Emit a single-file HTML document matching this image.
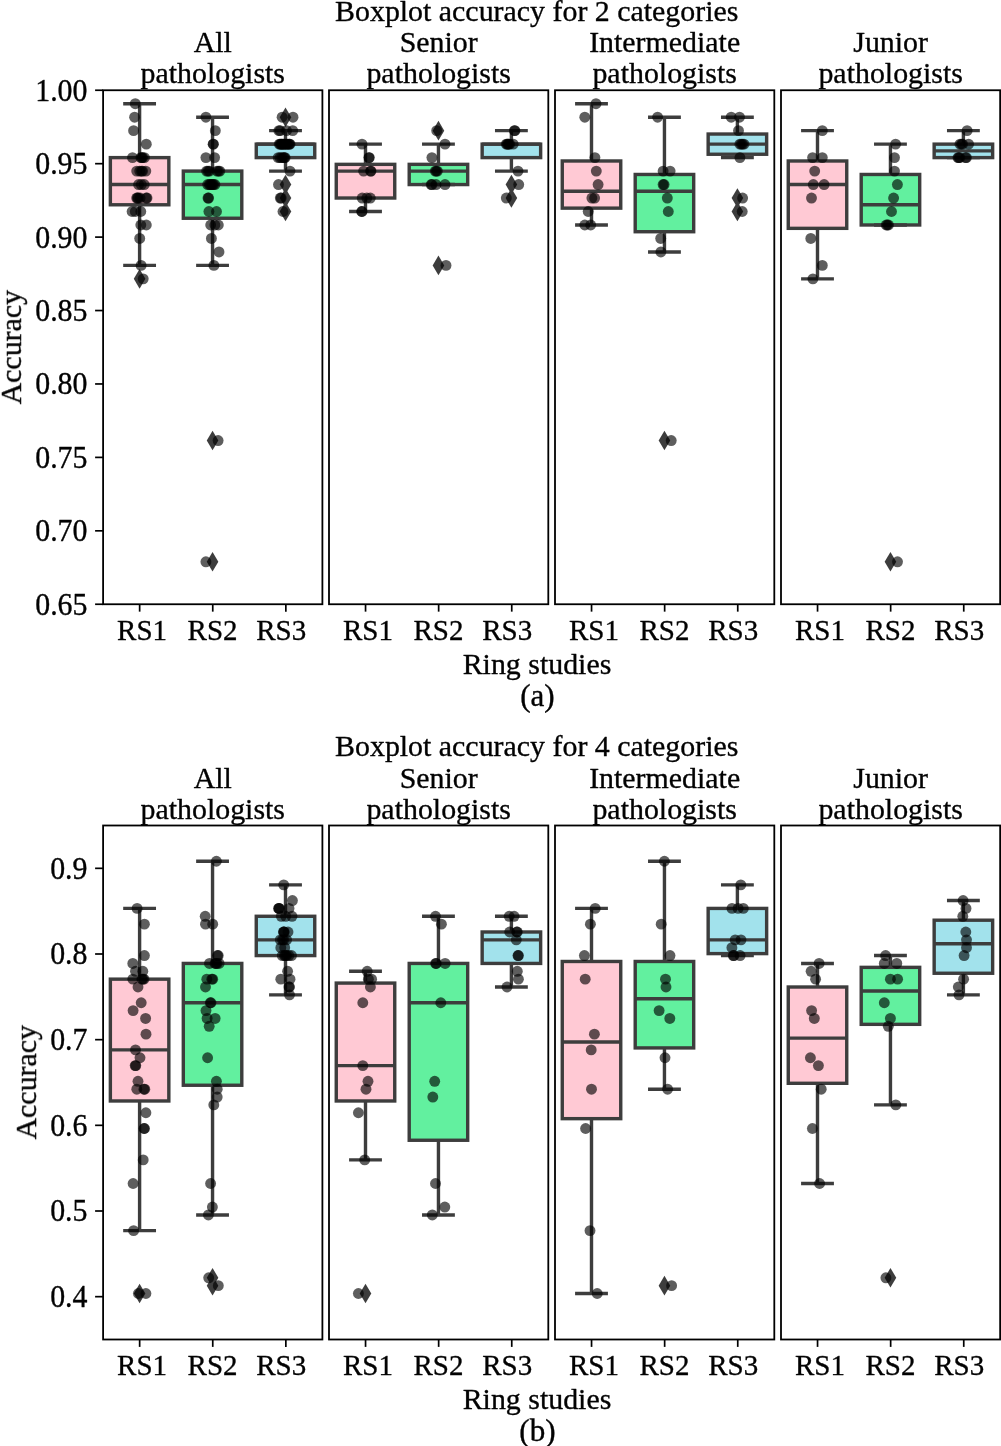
<!DOCTYPE html>
<html><head><meta charset="utf-8"><title>Boxplot accuracy</title>
<style>html,body{margin:0;padding:0;background:#fff;}body{width:1001px;height:1446px;overflow:hidden;font-family:"Liberation Serif",serif;}svg{display:block;}text{stroke:#000;stroke-width:0.35px;stroke-linejoin:round;}</style></head>
<body>
<svg width="1001" height="1446" viewBox="0 0 1001 1446" font-family="'Liberation Serif', serif" font-size="29.9" fill="#000">
<rect x="0" y="0" width="1001" height="1446" fill="#fff"/>
<g stroke="#3d3d3d" stroke-width="3.4" fill="none">
<rect x="110.36" y="157.62" width="58.48" height="47.16" fill="#ffc9d4"/>
<line x1="139.6" y1="157.62" x2="139.6" y2="103.72"/>
<line x1="139.6" y1="204.77" x2="139.6" y2="265.4"/>
<line x1="123.18" y1="103.72" x2="156.02" y2="103.72"/>
<line x1="123.18" y1="265.4" x2="156.02" y2="265.4"/>
<line x1="110.36" y1="184.56" x2="168.84" y2="184.56"/>
</g>
<path d="M139.6 269.07L145.4 278.87L139.6 288.67L133.8 278.87Z" fill="#3d3d3d"/>
<g stroke="#3d3d3d" stroke-width="3.4" fill="none">
<rect x="183.31" y="171.09" width="58.48" height="47.16" fill="#62f09f"/>
<line x1="212.55" y1="171.09" x2="212.55" y2="117.2"/>
<line x1="212.55" y1="218.24" x2="212.55" y2="265.4"/>
<line x1="196.13" y1="117.2" x2="228.97" y2="117.2"/>
<line x1="196.13" y1="265.4" x2="228.97" y2="265.4"/>
<line x1="183.31" y1="184.56" x2="241.79" y2="184.56"/>
</g>
<path d="M212.55 430.75L218.35 440.55L212.55 450.35L206.75 440.55Z" fill="#3d3d3d"/>
<path d="M212.55 552.01L218.35 561.81L212.55 571.61L206.75 561.81Z" fill="#3d3d3d"/>
<g stroke="#3d3d3d" stroke-width="3.4" fill="none">
<rect x="256.26" y="144.14" width="58.48" height="13.47" fill="#a2e2ec"/>
<line x1="285.5" y1="144.14" x2="285.5" y2="130.67"/>
<line x1="285.5" y1="157.62" x2="285.5" y2="171.09"/>
<line x1="269.08" y1="130.67" x2="301.92" y2="130.67"/>
<line x1="269.08" y1="171.09" x2="301.92" y2="171.09"/>
<line x1="256.26" y1="144.14" x2="314.74" y2="144.14"/>
</g>
<path d="M285.5 107.4L291.3 117.2L285.5 127L279.7 117.2Z" fill="#3d3d3d"/>
<path d="M285.5 174.76L291.3 184.56L285.5 194.36L279.7 184.56Z" fill="#3d3d3d"/>
<path d="M285.5 188.24L291.3 198.04L285.5 207.84L279.7 198.04Z" fill="#3d3d3d"/>
<path d="M285.5 201.71L291.3 211.51L285.5 221.31L279.7 211.51Z" fill="#3d3d3d"/>
<g fill="#000" fill-opacity="0.63">
<circle cx="135.3" cy="103.72" r="5.45"/>
<circle cx="134.6" cy="117.2" r="5.45"/>
<circle cx="133.6" cy="130.67" r="5.45"/>
<circle cx="146.3" cy="144.14" r="5.45"/>
<circle cx="132.5" cy="157.62" r="5.45"/>
<circle cx="140.9" cy="157.62" r="5.45"/>
<circle cx="142.6" cy="157.62" r="5.45"/>
<circle cx="144.4" cy="157.62" r="5.45"/>
<circle cx="141.8" cy="157.62" r="5.45"/>
<circle cx="136.7" cy="171.09" r="5.45"/>
<circle cx="139.7" cy="171.09" r="5.45"/>
<circle cx="141.5" cy="171.09" r="5.45"/>
<circle cx="145.8" cy="171.09" r="5.45"/>
<circle cx="142.6" cy="171.09" r="5.45"/>
<circle cx="138.6" cy="184.56" r="5.45"/>
<circle cx="141.3" cy="184.56" r="5.45"/>
<circle cx="144.2" cy="184.56" r="5.45"/>
<circle cx="136.7" cy="198.04" r="5.45"/>
<circle cx="138.3" cy="198.04" r="5.45"/>
<circle cx="140.1" cy="198.04" r="5.45"/>
<circle cx="147" cy="198.04" r="5.45"/>
<circle cx="137.5" cy="198.04" r="5.45"/>
<circle cx="146.2" cy="198.04" r="5.45"/>
<circle cx="132.1" cy="211.51" r="5.45"/>
<circle cx="135.3" cy="211.51" r="5.45"/>
<circle cx="140.8" cy="211.51" r="5.45"/>
<circle cx="140.8" cy="224.98" r="5.45"/>
<circle cx="146.3" cy="224.98" r="5.45"/>
<circle cx="139.7" cy="238.45" r="5.45"/>
<circle cx="141.1" cy="265.4" r="5.45"/>
<circle cx="143.2" cy="278.87" r="5.45"/>
<circle cx="205.9" cy="117.2" r="5.45"/>
<circle cx="215.3" cy="130.67" r="5.45"/>
<circle cx="213.1" cy="144.14" r="5.45"/>
<circle cx="213.4" cy="144.14" r="5.45"/>
<circle cx="205.9" cy="157.62" r="5.45"/>
<circle cx="214.6" cy="157.62" r="5.45"/>
<circle cx="206.6" cy="171.09" r="5.45"/>
<circle cx="209.4" cy="171.09" r="5.45"/>
<circle cx="217" cy="171.09" r="5.45"/>
<circle cx="219.8" cy="171.09" r="5.45"/>
<circle cx="218.5" cy="171.09" r="5.45"/>
<circle cx="208" cy="171.09" r="5.45"/>
<circle cx="207.7" cy="184.56" r="5.45"/>
<circle cx="209.3" cy="184.56" r="5.45"/>
<circle cx="211.4" cy="184.56" r="5.45"/>
<circle cx="214.9" cy="184.56" r="5.45"/>
<circle cx="213.5" cy="184.56" r="5.45"/>
<circle cx="210.3" cy="184.56" r="5.45"/>
<circle cx="212.5" cy="184.56" r="5.45"/>
<circle cx="208" cy="198.04" r="5.45"/>
<circle cx="208.6" cy="198.04" r="5.45"/>
<circle cx="208.9" cy="211.51" r="5.45"/>
<circle cx="216.5" cy="211.51" r="5.45"/>
<circle cx="210.7" cy="224.98" r="5.45"/>
<circle cx="214.9" cy="224.98" r="5.45"/>
<circle cx="218.3" cy="224.98" r="5.45"/>
<circle cx="211.4" cy="238.45" r="5.45"/>
<circle cx="219" cy="251.93" r="5.45"/>
<circle cx="213.9" cy="265.4" r="5.45"/>
<circle cx="218.1" cy="440.55" r="5.45"/>
<circle cx="205.9" cy="561.81" r="5.45"/>
<circle cx="282.1" cy="117.2" r="5.45"/>
<circle cx="293" cy="117.2" r="5.45"/>
<circle cx="278.9" cy="130.67" r="5.45"/>
<circle cx="280.2" cy="130.67" r="5.45"/>
<circle cx="286.5" cy="130.67" r="5.45"/>
<circle cx="292.7" cy="130.67" r="5.45"/>
<circle cx="279.3" cy="144.14" r="5.45"/>
<circle cx="281" cy="144.14" r="5.45"/>
<circle cx="282.3" cy="144.14" r="5.45"/>
<circle cx="284" cy="144.14" r="5.45"/>
<circle cx="285.8" cy="144.14" r="5.45"/>
<circle cx="287.5" cy="144.14" r="5.45"/>
<circle cx="290" cy="144.14" r="5.45"/>
<circle cx="288.8" cy="144.14" r="5.45"/>
<circle cx="283.2" cy="144.14" r="5.45"/>
<circle cx="280.2" cy="144.14" r="5.45"/>
<circle cx="284.9" cy="144.14" r="5.45"/>
<circle cx="286.6" cy="144.14" r="5.45"/>
<circle cx="281.6" cy="144.14" r="5.45"/>
<circle cx="289.4" cy="144.14" r="5.45"/>
<circle cx="278.2" cy="157.62" r="5.45"/>
<circle cx="280" cy="157.62" r="5.45"/>
<circle cx="281.7" cy="157.62" r="5.45"/>
<circle cx="283.5" cy="157.62" r="5.45"/>
<circle cx="285.1" cy="157.62" r="5.45"/>
<circle cx="284.3" cy="157.62" r="5.45"/>
<circle cx="290" cy="171.09" r="5.45"/>
<circle cx="278.5" cy="184.56" r="5.45"/>
<circle cx="280.3" cy="198.04" r="5.45"/>
<circle cx="281.2" cy="198.04" r="5.45"/>
<circle cx="283" cy="211.51" r="5.45"/>
</g>
<rect x="103.1" y="90.25" width="219.3" height="514" fill="none" stroke="#000" stroke-width="1.8"/>
<g stroke="#000" stroke-width="1.7">
<line x1="139.65" y1="604.25" x2="139.65" y2="611.65"/>
<line x1="212.75" y1="604.25" x2="212.75" y2="611.65"/>
<line x1="285.85" y1="604.25" x2="285.85" y2="611.65"/>
<line x1="103.1" y1="604.25" x2="95.1" y2="604.25"/>
<line x1="103.1" y1="530.82" x2="95.1" y2="530.82"/>
<line x1="103.1" y1="457.39" x2="95.1" y2="457.39"/>
<line x1="103.1" y1="383.96" x2="95.1" y2="383.96"/>
<line x1="103.1" y1="310.54" x2="95.1" y2="310.54"/>
<line x1="103.1" y1="237.11" x2="95.1" y2="237.11"/>
<line x1="103.1" y1="163.68" x2="95.1" y2="163.68"/>
<line x1="103.1" y1="90.25" x2="95.1" y2="90.25"/>
</g>
<g stroke="#3d3d3d" stroke-width="3.4" fill="none">
<rect x="336.26" y="164.35" width="58.48" height="33.68" fill="#ffc9d4"/>
<line x1="365.5" y1="164.35" x2="365.5" y2="144.14"/>
<line x1="365.5" y1="198.04" x2="365.5" y2="211.51"/>
<line x1="349.08" y1="144.14" x2="381.92" y2="144.14"/>
<line x1="349.08" y1="211.51" x2="381.92" y2="211.51"/>
<line x1="336.26" y1="171.09" x2="394.74" y2="171.09"/>
</g>
<g stroke="#3d3d3d" stroke-width="3.4" fill="none">
<rect x="409.21" y="164.35" width="58.48" height="20.21" fill="#62f09f"/>
<line x1="438.45" y1="164.35" x2="438.45" y2="144.14"/>
<line x1="422.03" y1="144.14" x2="454.87" y2="144.14"/>
<line x1="422.03" y1="184.56" x2="454.87" y2="184.56"/>
<line x1="409.21" y1="171.09" x2="467.69" y2="171.09"/>
</g>
<path d="M438.45 120.87L444.25 130.67L438.45 140.47L432.65 130.67Z" fill="#3d3d3d"/>
<path d="M438.45 255.6L444.25 265.4L438.45 275.2L432.65 265.4Z" fill="#3d3d3d"/>
<g stroke="#3d3d3d" stroke-width="3.4" fill="none">
<rect x="482.16" y="144.14" width="58.48" height="13.47" fill="#a2e2ec"/>
<line x1="511.4" y1="144.14" x2="511.4" y2="130.67"/>
<line x1="511.4" y1="157.62" x2="511.4" y2="171.09"/>
<line x1="494.98" y1="130.67" x2="527.82" y2="130.67"/>
<line x1="494.98" y1="171.09" x2="527.82" y2="171.09"/>
<line x1="482.16" y1="144.14" x2="540.64" y2="144.14"/>
</g>
<path d="M511.4 174.76L517.2 184.56L511.4 194.36L505.6 184.56Z" fill="#3d3d3d"/>
<path d="M511.4 188.24L517.2 198.04L511.4 207.84L505.6 198.04Z" fill="#3d3d3d"/>
<g fill="#000" fill-opacity="0.63">
<circle cx="362" cy="144.14" r="5.45"/>
<circle cx="368.9" cy="157.62" r="5.45"/>
<circle cx="369.3" cy="157.62" r="5.45"/>
<circle cx="363.6" cy="171.09" r="5.45"/>
<circle cx="371" cy="171.09" r="5.45"/>
<circle cx="370.6" cy="171.09" r="5.45"/>
<circle cx="362.2" cy="198.04" r="5.45"/>
<circle cx="366.8" cy="198.04" r="5.45"/>
<circle cx="370.3" cy="198.04" r="5.45"/>
<circle cx="361.7" cy="211.51" r="5.45"/>
<circle cx="362" cy="211.51" r="5.45"/>
<circle cx="436.7" cy="130.67" r="5.45"/>
<circle cx="445" cy="144.14" r="5.45"/>
<circle cx="431.9" cy="157.62" r="5.45"/>
<circle cx="435.3" cy="171.09" r="5.45"/>
<circle cx="437.4" cy="171.09" r="5.45"/>
<circle cx="436.3" cy="171.09" r="5.45"/>
<circle cx="431.2" cy="184.56" r="5.45"/>
<circle cx="432" cy="184.56" r="5.45"/>
<circle cx="436" cy="184.56" r="5.45"/>
<circle cx="445" cy="184.56" r="5.45"/>
<circle cx="446" cy="265.4" r="5.45"/>
<circle cx="514.4" cy="130.67" r="5.45"/>
<circle cx="514.9" cy="130.67" r="5.45"/>
<circle cx="506.3" cy="144.14" r="5.45"/>
<circle cx="508" cy="144.14" r="5.45"/>
<circle cx="509.7" cy="144.14" r="5.45"/>
<circle cx="513.2" cy="144.14" r="5.45"/>
<circle cx="507.2" cy="144.14" r="5.45"/>
<circle cx="508.8" cy="144.14" r="5.45"/>
<circle cx="518" cy="171.09" r="5.45"/>
<circle cx="518.7" cy="184.56" r="5.45"/>
<circle cx="506.3" cy="198.04" r="5.45"/>
</g>
<rect x="329" y="90.25" width="219.3" height="514" fill="none" stroke="#000" stroke-width="1.8"/>
<g stroke="#000" stroke-width="1.7">
<line x1="365.55" y1="604.25" x2="365.55" y2="611.65"/>
<line x1="438.65" y1="604.25" x2="438.65" y2="611.65"/>
<line x1="511.75" y1="604.25" x2="511.75" y2="611.65"/>
</g>
<g stroke="#3d3d3d" stroke-width="3.4" fill="none">
<rect x="562.26" y="160.98" width="58.48" height="47.16" fill="#ffc9d4"/>
<line x1="591.5" y1="160.98" x2="591.5" y2="103.72"/>
<line x1="591.5" y1="208.14" x2="591.5" y2="224.98"/>
<line x1="575.08" y1="103.72" x2="607.92" y2="103.72"/>
<line x1="575.08" y1="224.98" x2="607.92" y2="224.98"/>
<line x1="562.26" y1="191.3" x2="620.74" y2="191.3"/>
</g>
<g stroke="#3d3d3d" stroke-width="3.4" fill="none">
<rect x="635.21" y="174.46" width="58.48" height="57.26" fill="#62f09f"/>
<line x1="664.45" y1="174.46" x2="664.45" y2="117.2"/>
<line x1="664.45" y1="231.72" x2="664.45" y2="251.93"/>
<line x1="648.03" y1="117.2" x2="680.87" y2="117.2"/>
<line x1="648.03" y1="251.93" x2="680.87" y2="251.93"/>
<line x1="635.21" y1="191.3" x2="693.69" y2="191.3"/>
</g>
<path d="M664.45 430.75L670.25 440.55L664.45 450.35L658.65 440.55Z" fill="#3d3d3d"/>
<g stroke="#3d3d3d" stroke-width="3.4" fill="none">
<rect x="708.16" y="134.04" width="58.48" height="20.21" fill="#a2e2ec"/>
<line x1="737.4" y1="134.04" x2="737.4" y2="117.2"/>
<line x1="737.4" y1="154.25" x2="737.4" y2="157.62"/>
<line x1="720.98" y1="117.2" x2="753.82" y2="117.2"/>
<line x1="720.98" y1="157.62" x2="753.82" y2="157.62"/>
<line x1="708.16" y1="144.14" x2="766.64" y2="144.14"/>
</g>
<path d="M737.4 188.24L743.2 198.04L737.4 207.84L731.6 198.04Z" fill="#3d3d3d"/>
<path d="M737.4 201.71L743.2 211.51L737.4 221.31L731.6 211.51Z" fill="#3d3d3d"/>
<g fill="#000" fill-opacity="0.63">
<circle cx="596" cy="103.72" r="5.45"/>
<circle cx="584.8" cy="117.2" r="5.45"/>
<circle cx="594.9" cy="157.62" r="5.45"/>
<circle cx="596.3" cy="171.09" r="5.45"/>
<circle cx="598.1" cy="184.56" r="5.45"/>
<circle cx="591.9" cy="198.04" r="5.45"/>
<circle cx="594.6" cy="198.04" r="5.45"/>
<circle cx="588.2" cy="211.51" r="5.45"/>
<circle cx="584.8" cy="224.98" r="5.45"/>
<circle cx="590.7" cy="224.98" r="5.45"/>
<circle cx="657.6" cy="117.2" r="5.45"/>
<circle cx="663.1" cy="171.09" r="5.45"/>
<circle cx="670.1" cy="171.09" r="5.45"/>
<circle cx="663.1" cy="184.56" r="5.45"/>
<circle cx="664.1" cy="184.56" r="5.45"/>
<circle cx="667.3" cy="198.04" r="5.45"/>
<circle cx="668.3" cy="211.51" r="5.45"/>
<circle cx="660.7" cy="238.45" r="5.45"/>
<circle cx="660.9" cy="251.93" r="5.45"/>
<circle cx="671.2" cy="440.55" r="5.45"/>
<circle cx="731.2" cy="117.2" r="5.45"/>
<circle cx="739.5" cy="117.2" r="5.45"/>
<circle cx="738.5" cy="130.67" r="5.45"/>
<circle cx="739.9" cy="144.14" r="5.45"/>
<circle cx="741.3" cy="144.14" r="5.45"/>
<circle cx="742.6" cy="144.14" r="5.45"/>
<circle cx="744" cy="144.14" r="5.45"/>
<circle cx="739.9" cy="157.62" r="5.45"/>
<circle cx="742.6" cy="198.04" r="5.45"/>
<circle cx="742.2" cy="211.51" r="5.45"/>
</g>
<rect x="555" y="90.25" width="219.3" height="514" fill="none" stroke="#000" stroke-width="1.8"/>
<g stroke="#000" stroke-width="1.7">
<line x1="591.55" y1="604.25" x2="591.55" y2="611.65"/>
<line x1="664.65" y1="604.25" x2="664.65" y2="611.65"/>
<line x1="737.75" y1="604.25" x2="737.75" y2="611.65"/>
</g>
<g stroke="#3d3d3d" stroke-width="3.4" fill="none">
<rect x="788.26" y="160.98" width="58.48" height="67.37" fill="#ffc9d4"/>
<line x1="817.5" y1="160.98" x2="817.5" y2="130.67"/>
<line x1="817.5" y1="228.35" x2="817.5" y2="278.87"/>
<line x1="801.08" y1="130.67" x2="833.92" y2="130.67"/>
<line x1="801.08" y1="278.87" x2="833.92" y2="278.87"/>
<line x1="788.26" y1="184.56" x2="846.74" y2="184.56"/>
</g>
<g stroke="#3d3d3d" stroke-width="3.4" fill="none">
<rect x="861.21" y="174.46" width="58.48" height="50.52" fill="#62f09f"/>
<line x1="890.45" y1="174.46" x2="890.45" y2="144.14"/>
<line x1="874.03" y1="144.14" x2="906.87" y2="144.14"/>
<line x1="874.03" y1="224.98" x2="906.87" y2="224.98"/>
<line x1="861.21" y1="204.77" x2="919.69" y2="204.77"/>
</g>
<path d="M890.45 552.01L896.25 561.81L890.45 571.61L884.65 561.81Z" fill="#3d3d3d"/>
<g stroke="#3d3d3d" stroke-width="3.4" fill="none">
<rect x="934.16" y="144.14" width="58.48" height="13.47" fill="#a2e2ec"/>
<line x1="963.4" y1="144.14" x2="963.4" y2="130.67"/>
<line x1="946.98" y1="130.67" x2="979.82" y2="130.67"/>
<line x1="946.98" y1="157.62" x2="979.82" y2="157.62"/>
<line x1="934.16" y1="150.88" x2="992.64" y2="150.88"/>
</g>
<g fill="#000" fill-opacity="0.63">
<circle cx="822.3" cy="130.67" r="5.45"/>
<circle cx="812.6" cy="157.62" r="5.45"/>
<circle cx="822.3" cy="157.62" r="5.45"/>
<circle cx="814.7" cy="171.09" r="5.45"/>
<circle cx="813.3" cy="184.56" r="5.45"/>
<circle cx="824.1" cy="184.56" r="5.45"/>
<circle cx="811.5" cy="198.04" r="5.45"/>
<circle cx="810.8" cy="238.45" r="5.45"/>
<circle cx="822.3" cy="265.4" r="5.45"/>
<circle cx="812.9" cy="278.87" r="5.45"/>
<circle cx="895.6" cy="144.14" r="5.45"/>
<circle cx="894.5" cy="157.62" r="5.45"/>
<circle cx="894.5" cy="171.09" r="5.45"/>
<circle cx="897.4" cy="184.56" r="5.45"/>
<circle cx="893.6" cy="198.04" r="5.45"/>
<circle cx="891.5" cy="211.51" r="5.45"/>
<circle cx="886.2" cy="224.98" r="5.45"/>
<circle cx="887.3" cy="224.98" r="5.45"/>
<circle cx="888.5" cy="224.98" r="5.45"/>
<circle cx="897.5" cy="561.81" r="5.45"/>
<circle cx="967.1" cy="130.67" r="5.45"/>
<circle cx="960" cy="144.14" r="5.45"/>
<circle cx="961.5" cy="144.14" r="5.45"/>
<circle cx="962.6" cy="144.14" r="5.45"/>
<circle cx="968.6" cy="144.14" r="5.45"/>
<circle cx="958" cy="157.62" r="5.45"/>
<circle cx="958.8" cy="157.62" r="5.45"/>
<circle cx="959.8" cy="157.62" r="5.45"/>
<circle cx="965.6" cy="157.62" r="5.45"/>
<circle cx="966.4" cy="157.62" r="5.45"/>
</g>
<rect x="781" y="90.25" width="219.15" height="514" fill="none" stroke="#000" stroke-width="1.8"/>
<g stroke="#000" stroke-width="1.7">
<line x1="817.55" y1="604.25" x2="817.55" y2="611.65"/>
<line x1="890.65" y1="604.25" x2="890.65" y2="611.65"/>
<line x1="963.75" y1="604.25" x2="963.75" y2="611.65"/>
</g>
<g stroke="#3d3d3d" stroke-width="3.4" fill="none">
<rect x="110.36" y="979.15" width="58.48" height="121.82" fill="#ffc9d4"/>
<line x1="139.6" y1="979.15" x2="139.6" y2="908.42"/>
<line x1="139.6" y1="1100.97" x2="139.6" y2="1230.65"/>
<line x1="123.18" y1="908.42" x2="156.02" y2="908.42"/>
<line x1="123.18" y1="1230.65" x2="156.02" y2="1230.65"/>
<line x1="110.36" y1="1049.88" x2="168.84" y2="1049.88"/>
</g>
<path d="M139.6 1283.72L145.4 1293.52L139.6 1303.32L133.8 1293.52Z" fill="#3d3d3d"/>
<g stroke="#3d3d3d" stroke-width="3.4" fill="none">
<rect x="183.31" y="963.43" width="58.48" height="121.82" fill="#62f09f"/>
<line x1="212.55" y1="963.43" x2="212.55" y2="861.26"/>
<line x1="212.55" y1="1085.25" x2="212.55" y2="1214.93"/>
<line x1="196.13" y1="861.26" x2="228.97" y2="861.26"/>
<line x1="196.13" y1="1214.93" x2="228.97" y2="1214.93"/>
<line x1="183.31" y1="1002.73" x2="241.79" y2="1002.73"/>
</g>
<path d="M212.55 1268L218.35 1277.8L212.55 1287.6L206.75 1277.8Z" fill="#3d3d3d"/>
<path d="M212.55 1275.86L218.35 1285.66L212.55 1295.46L206.75 1285.66Z" fill="#3d3d3d"/>
<g stroke="#3d3d3d" stroke-width="3.4" fill="none">
<rect x="256.26" y="916.28" width="58.48" height="39.3" fill="#a2e2ec"/>
<line x1="285.5" y1="916.28" x2="285.5" y2="884.84"/>
<line x1="285.5" y1="955.57" x2="285.5" y2="994.87"/>
<line x1="269.08" y1="884.84" x2="301.92" y2="884.84"/>
<line x1="269.08" y1="994.87" x2="301.92" y2="994.87"/>
<line x1="256.26" y1="939.85" x2="314.74" y2="939.85"/>
</g>
<g fill="#000" fill-opacity="0.63">
<circle cx="137.1" cy="908.42" r="5.45"/>
<circle cx="144.4" cy="924.13" r="5.45"/>
<circle cx="144.4" cy="955.57" r="5.45"/>
<circle cx="132.8" cy="963.43" r="5.45"/>
<circle cx="135.5" cy="971.29" r="5.45"/>
<circle cx="142.8" cy="971.29" r="5.45"/>
<circle cx="132.8" cy="979.15" r="5.45"/>
<circle cx="141.9" cy="979.15" r="5.45"/>
<circle cx="144" cy="979.15" r="5.45"/>
<circle cx="142.9" cy="979.15" r="5.45"/>
<circle cx="138" cy="987.01" r="5.45"/>
<circle cx="141.2" cy="1002.73" r="5.45"/>
<circle cx="133.1" cy="1010.59" r="5.45"/>
<circle cx="145.6" cy="1018.45" r="5.45"/>
<circle cx="146" cy="1034.17" r="5.45"/>
<circle cx="135.5" cy="1049.88" r="5.45"/>
<circle cx="140" cy="1057.74" r="5.45"/>
<circle cx="135.2" cy="1065.6" r="5.45"/>
<circle cx="135.8" cy="1065.6" r="5.45"/>
<circle cx="138" cy="1081.32" r="5.45"/>
<circle cx="136.8" cy="1089.18" r="5.45"/>
<circle cx="144.8" cy="1089.18" r="5.45"/>
<circle cx="143.9" cy="1089.18" r="5.45"/>
<circle cx="145.9" cy="1112.76" r="5.45"/>
<circle cx="144" cy="1128.48" r="5.45"/>
<circle cx="144.5" cy="1128.48" r="5.45"/>
<circle cx="143.2" cy="1159.91" r="5.45"/>
<circle cx="133.1" cy="1183.49" r="5.45"/>
<circle cx="133.6" cy="1230.65" r="5.45"/>
<circle cx="138.4" cy="1293.52" r="5.45"/>
<circle cx="145.9" cy="1293.52" r="5.45"/>
<circle cx="216.4" cy="861.26" r="5.45"/>
<circle cx="205.2" cy="916.28" r="5.45"/>
<circle cx="205.5" cy="924.13" r="5.45"/>
<circle cx="212.7" cy="924.13" r="5.45"/>
<circle cx="217.5" cy="955.57" r="5.45"/>
<circle cx="218.2" cy="955.57" r="5.45"/>
<circle cx="209.5" cy="963.43" r="5.45"/>
<circle cx="215.1" cy="963.43" r="5.45"/>
<circle cx="217" cy="963.43" r="5.45"/>
<circle cx="219.1" cy="963.43" r="5.45"/>
<circle cx="216" cy="963.43" r="5.45"/>
<circle cx="206.8" cy="979.15" r="5.45"/>
<circle cx="212.7" cy="979.15" r="5.45"/>
<circle cx="211.8" cy="979.15" r="5.45"/>
<circle cx="205.5" cy="987.01" r="5.45"/>
<circle cx="210.3" cy="1002.73" r="5.45"/>
<circle cx="211" cy="1002.73" r="5.45"/>
<circle cx="206" cy="1010.59" r="5.45"/>
<circle cx="207.1" cy="1018.45" r="5.45"/>
<circle cx="215.1" cy="1018.45" r="5.45"/>
<circle cx="209.2" cy="1026.31" r="5.45"/>
<circle cx="207.6" cy="1057.74" r="5.45"/>
<circle cx="216.4" cy="1081.32" r="5.45"/>
<circle cx="217.2" cy="1089.18" r="5.45"/>
<circle cx="217.2" cy="1097.04" r="5.45"/>
<circle cx="213.8" cy="1104.9" r="5.45"/>
<circle cx="210.6" cy="1183.49" r="5.45"/>
<circle cx="212.4" cy="1207.07" r="5.45"/>
<circle cx="208.4" cy="1214.93" r="5.45"/>
<circle cx="208.7" cy="1277.8" r="5.45"/>
<circle cx="218.3" cy="1285.66" r="5.45"/>
<circle cx="283.7" cy="884.84" r="5.45"/>
<circle cx="292.4" cy="900.56" r="5.45"/>
<circle cx="278.6" cy="908.42" r="5.45"/>
<circle cx="279" cy="908.42" r="5.45"/>
<circle cx="279.3" cy="908.42" r="5.45"/>
<circle cx="289" cy="908.42" r="5.45"/>
<circle cx="281.3" cy="916.28" r="5.45"/>
<circle cx="285.7" cy="916.28" r="5.45"/>
<circle cx="292" cy="916.28" r="5.45"/>
<circle cx="283.4" cy="931.99" r="5.45"/>
<circle cx="283.9" cy="931.99" r="5.45"/>
<circle cx="284.2" cy="931.99" r="5.45"/>
<circle cx="288" cy="931.99" r="5.45"/>
<circle cx="280.3" cy="939.85" r="5.45"/>
<circle cx="282.5" cy="939.85" r="5.45"/>
<circle cx="283.7" cy="939.85" r="5.45"/>
<circle cx="286.6" cy="939.85" r="5.45"/>
<circle cx="280.8" cy="947.71" r="5.45"/>
<circle cx="284.7" cy="947.71" r="5.45"/>
<circle cx="282.3" cy="955.57" r="5.45"/>
<circle cx="284.5" cy="955.57" r="5.45"/>
<circle cx="286.6" cy="955.57" r="5.45"/>
<circle cx="288.8" cy="955.57" r="5.45"/>
<circle cx="291.5" cy="955.57" r="5.45"/>
<circle cx="285.5" cy="955.57" r="5.45"/>
<circle cx="287.6" cy="971.29" r="5.45"/>
<circle cx="280.8" cy="979.15" r="5.45"/>
<circle cx="290" cy="979.15" r="5.45"/>
<circle cx="289" cy="987.01" r="5.45"/>
<circle cx="289.5" cy="987.01" r="5.45"/>
<circle cx="289.5" cy="994.87" r="5.45"/>
</g>
<rect x="103.1" y="825.5" width="219.3" height="514" fill="none" stroke="#000" stroke-width="1.8"/>
<g stroke="#000" stroke-width="1.7">
<line x1="139.65" y1="1339.5" x2="139.65" y2="1346.9"/>
<line x1="212.75" y1="1339.5" x2="212.75" y2="1346.9"/>
<line x1="285.85" y1="1339.5" x2="285.85" y2="1346.9"/>
<line x1="103.1" y1="1296.67" x2="95.1" y2="1296.67"/>
<line x1="103.1" y1="1211" x2="95.1" y2="1211"/>
<line x1="103.1" y1="1125.33" x2="95.1" y2="1125.33"/>
<line x1="103.1" y1="1039.67" x2="95.1" y2="1039.67"/>
<line x1="103.1" y1="954" x2="95.1" y2="954"/>
<line x1="103.1" y1="868.33" x2="95.1" y2="868.33"/>
</g>
<g stroke="#3d3d3d" stroke-width="3.4" fill="none">
<rect x="336.26" y="983.08" width="58.48" height="117.89" fill="#ffc9d4"/>
<line x1="365.5" y1="983.08" x2="365.5" y2="971.29"/>
<line x1="365.5" y1="1100.97" x2="365.5" y2="1159.91"/>
<line x1="349.08" y1="971.29" x2="381.92" y2="971.29"/>
<line x1="349.08" y1="1159.91" x2="381.92" y2="1159.91"/>
<line x1="336.26" y1="1065.6" x2="394.74" y2="1065.6"/>
</g>
<path d="M365.5 1283.72L371.3 1293.52L365.5 1303.32L359.7 1293.52Z" fill="#3d3d3d"/>
<g stroke="#3d3d3d" stroke-width="3.4" fill="none">
<rect x="409.21" y="963.43" width="58.48" height="176.83" fill="#62f09f"/>
<line x1="438.45" y1="963.43" x2="438.45" y2="916.28"/>
<line x1="438.45" y1="1140.27" x2="438.45" y2="1214.93"/>
<line x1="422.03" y1="916.28" x2="454.87" y2="916.28"/>
<line x1="422.03" y1="1214.93" x2="454.87" y2="1214.93"/>
<line x1="409.21" y1="1002.73" x2="467.69" y2="1002.73"/>
</g>
<g stroke="#3d3d3d" stroke-width="3.4" fill="none">
<rect x="482.16" y="931.99" width="58.48" height="31.44" fill="#a2e2ec"/>
<line x1="511.4" y1="931.99" x2="511.4" y2="916.28"/>
<line x1="511.4" y1="963.43" x2="511.4" y2="987.01"/>
<line x1="494.98" y1="916.28" x2="527.82" y2="916.28"/>
<line x1="494.98" y1="987.01" x2="527.82" y2="987.01"/>
<line x1="482.16" y1="939.85" x2="540.64" y2="939.85"/>
</g>
<g fill="#000" fill-opacity="0.63">
<circle cx="367.2" cy="971.29" r="5.45"/>
<circle cx="368.4" cy="979.15" r="5.45"/>
<circle cx="371.6" cy="979.15" r="5.45"/>
<circle cx="370.4" cy="987.01" r="5.45"/>
<circle cx="362.8" cy="1002.73" r="5.45"/>
<circle cx="362.8" cy="1065.6" r="5.45"/>
<circle cx="368" cy="1081.32" r="5.45"/>
<circle cx="366" cy="1089.18" r="5.45"/>
<circle cx="358.4" cy="1112.76" r="5.45"/>
<circle cx="364.7" cy="1159.91" r="5.45"/>
<circle cx="358.4" cy="1293.52" r="5.45"/>
<circle cx="435.5" cy="916.28" r="5.45"/>
<circle cx="441.4" cy="924.13" r="5.45"/>
<circle cx="435.7" cy="963.43" r="5.45"/>
<circle cx="436.3" cy="963.43" r="5.45"/>
<circle cx="445.1" cy="963.43" r="5.45"/>
<circle cx="440.8" cy="1002.73" r="5.45"/>
<circle cx="434.7" cy="1081.32" r="5.45"/>
<circle cx="432.8" cy="1097.04" r="5.45"/>
<circle cx="435.5" cy="1183.49" r="5.45"/>
<circle cx="444.8" cy="1207.07" r="5.45"/>
<circle cx="432.3" cy="1214.93" r="5.45"/>
<circle cx="509.2" cy="916.28" r="5.45"/>
<circle cx="514.1" cy="916.28" r="5.45"/>
<circle cx="509.7" cy="931.99" r="5.45"/>
<circle cx="516.7" cy="931.99" r="5.45"/>
<circle cx="517.3" cy="931.99" r="5.45"/>
<circle cx="516.3" cy="939.85" r="5.45"/>
<circle cx="518" cy="955.57" r="5.45"/>
<circle cx="518.4" cy="955.57" r="5.45"/>
<circle cx="517.3" cy="971.29" r="5.45"/>
<circle cx="518.4" cy="979.15" r="5.45"/>
<circle cx="507" cy="987.01" r="5.45"/>
</g>
<rect x="329" y="825.5" width="219.3" height="514" fill="none" stroke="#000" stroke-width="1.8"/>
<g stroke="#000" stroke-width="1.7">
<line x1="365.55" y1="1339.5" x2="365.55" y2="1346.9"/>
<line x1="438.65" y1="1339.5" x2="438.65" y2="1346.9"/>
<line x1="511.75" y1="1339.5" x2="511.75" y2="1346.9"/>
</g>
<g stroke="#3d3d3d" stroke-width="3.4" fill="none">
<rect x="562.26" y="961.47" width="58.48" height="157.19" fill="#ffc9d4"/>
<line x1="591.5" y1="961.47" x2="591.5" y2="908.42"/>
<line x1="591.5" y1="1118.65" x2="591.5" y2="1293.52"/>
<line x1="575.08" y1="908.42" x2="607.92" y2="908.42"/>
<line x1="575.08" y1="1293.52" x2="607.92" y2="1293.52"/>
<line x1="562.26" y1="1042.02" x2="620.74" y2="1042.02"/>
</g>
<g stroke="#3d3d3d" stroke-width="3.4" fill="none">
<rect x="635.21" y="961.47" width="58.48" height="86.45" fill="#62f09f"/>
<line x1="664.45" y1="961.47" x2="664.45" y2="861.26"/>
<line x1="664.45" y1="1047.92" x2="664.45" y2="1089.18"/>
<line x1="648.03" y1="861.26" x2="680.87" y2="861.26"/>
<line x1="648.03" y1="1089.18" x2="680.87" y2="1089.18"/>
<line x1="635.21" y1="998.8" x2="693.69" y2="998.8"/>
</g>
<path d="M664.45 1275.86L670.25 1285.66L664.45 1295.46L658.65 1285.66Z" fill="#3d3d3d"/>
<g stroke="#3d3d3d" stroke-width="3.4" fill="none">
<rect x="708.16" y="908.42" width="58.48" height="45.19" fill="#a2e2ec"/>
<line x1="737.4" y1="908.42" x2="737.4" y2="884.84"/>
<line x1="737.4" y1="953.61" x2="737.4" y2="955.57"/>
<line x1="720.98" y1="884.84" x2="753.82" y2="884.84"/>
<line x1="720.98" y1="955.57" x2="753.82" y2="955.57"/>
<line x1="708.16" y1="939.85" x2="766.64" y2="939.85"/>
</g>
<g fill="#000" fill-opacity="0.63">
<circle cx="595.2" cy="908.42" r="5.45"/>
<circle cx="590.4" cy="924.13" r="5.45"/>
<circle cx="584.4" cy="955.57" r="5.45"/>
<circle cx="585.2" cy="979.15" r="5.45"/>
<circle cx="594.4" cy="1034.17" r="5.45"/>
<circle cx="591.2" cy="1049.88" r="5.45"/>
<circle cx="591.5" cy="1089.18" r="5.45"/>
<circle cx="585.6" cy="1128.48" r="5.45"/>
<circle cx="590" cy="1230.65" r="5.45"/>
<circle cx="597.2" cy="1293.52" r="5.45"/>
<circle cx="664.4" cy="861.26" r="5.45"/>
<circle cx="661.2" cy="924.13" r="5.45"/>
<circle cx="670" cy="955.57" r="5.45"/>
<circle cx="665.5" cy="979.15" r="5.45"/>
<circle cx="666" cy="987.01" r="5.45"/>
<circle cx="659.1" cy="1010.59" r="5.45"/>
<circle cx="669.8" cy="1018.45" r="5.45"/>
<circle cx="665" cy="1057.74" r="5.45"/>
<circle cx="667.6" cy="1089.18" r="5.45"/>
<circle cx="671.6" cy="1285.66" r="5.45"/>
<circle cx="740.8" cy="884.84" r="5.45"/>
<circle cx="732" cy="908.42" r="5.45"/>
<circle cx="738.1" cy="908.42" r="5.45"/>
<circle cx="743.3" cy="908.42" r="5.45"/>
<circle cx="735.2" cy="939.85" r="5.45"/>
<circle cx="741" cy="939.85" r="5.45"/>
<circle cx="731.9" cy="947.71" r="5.45"/>
<circle cx="733.3" cy="955.57" r="5.45"/>
<circle cx="733.9" cy="955.57" r="5.45"/>
<circle cx="740.1" cy="955.57" r="5.45"/>
</g>
<rect x="555" y="825.5" width="219.3" height="514" fill="none" stroke="#000" stroke-width="1.8"/>
<g stroke="#000" stroke-width="1.7">
<line x1="591.55" y1="1339.5" x2="591.55" y2="1346.9"/>
<line x1="664.65" y1="1339.5" x2="664.65" y2="1346.9"/>
<line x1="737.75" y1="1339.5" x2="737.75" y2="1346.9"/>
</g>
<g stroke="#3d3d3d" stroke-width="3.4" fill="none">
<rect x="788.26" y="987.01" width="58.48" height="96.28" fill="#ffc9d4"/>
<line x1="817.5" y1="987.01" x2="817.5" y2="963.43"/>
<line x1="817.5" y1="1083.29" x2="817.5" y2="1183.49"/>
<line x1="801.08" y1="963.43" x2="833.92" y2="963.43"/>
<line x1="801.08" y1="1183.49" x2="833.92" y2="1183.49"/>
<line x1="788.26" y1="1038.09" x2="846.74" y2="1038.09"/>
</g>
<g stroke="#3d3d3d" stroke-width="3.4" fill="none">
<rect x="861.21" y="967.36" width="58.48" height="56.98" fill="#62f09f"/>
<line x1="890.45" y1="967.36" x2="890.45" y2="955.57"/>
<line x1="890.45" y1="1024.34" x2="890.45" y2="1104.9"/>
<line x1="874.03" y1="955.57" x2="906.87" y2="955.57"/>
<line x1="874.03" y1="1104.9" x2="906.87" y2="1104.9"/>
<line x1="861.21" y1="990.94" x2="919.69" y2="990.94"/>
</g>
<path d="M890.45 1268L896.25 1277.8L890.45 1287.6L884.65 1277.8Z" fill="#3d3d3d"/>
<g stroke="#3d3d3d" stroke-width="3.4" fill="none">
<rect x="934.16" y="920.2" width="58.48" height="53.05" fill="#a2e2ec"/>
<line x1="963.4" y1="920.2" x2="963.4" y2="900.56"/>
<line x1="963.4" y1="973.26" x2="963.4" y2="994.87"/>
<line x1="946.98" y1="900.56" x2="979.82" y2="900.56"/>
<line x1="946.98" y1="994.87" x2="979.82" y2="994.87"/>
<line x1="934.16" y1="943.78" x2="992.64" y2="943.78"/>
</g>
<g fill="#000" fill-opacity="0.63">
<circle cx="819.1" cy="963.43" r="5.45"/>
<circle cx="811.1" cy="971.29" r="5.45"/>
<circle cx="815.6" cy="979.15" r="5.45"/>
<circle cx="811.6" cy="1010.59" r="5.45"/>
<circle cx="814.3" cy="1018.45" r="5.45"/>
<circle cx="810.4" cy="1057.74" r="5.45"/>
<circle cx="818.4" cy="1065.6" r="5.45"/>
<circle cx="821.2" cy="1089.18" r="5.45"/>
<circle cx="812.4" cy="1128.48" r="5.45"/>
<circle cx="819.6" cy="1183.49" r="5.45"/>
<circle cx="885.6" cy="955.57" r="5.45"/>
<circle cx="884.3" cy="963.43" r="5.45"/>
<circle cx="896.8" cy="963.43" r="5.45"/>
<circle cx="890.4" cy="979.15" r="5.45"/>
<circle cx="897.6" cy="979.15" r="5.45"/>
<circle cx="884.3" cy="1002.73" r="5.45"/>
<circle cx="890.4" cy="1018.45" r="5.45"/>
<circle cx="888.3" cy="1026.31" r="5.45"/>
<circle cx="895.8" cy="1104.9" r="5.45"/>
<circle cx="885.9" cy="1277.8" r="5.45"/>
<circle cx="963.1" cy="900.56" r="5.45"/>
<circle cx="966" cy="908.42" r="5.45"/>
<circle cx="962.8" cy="916.28" r="5.45"/>
<circle cx="965.8" cy="931.99" r="5.45"/>
<circle cx="966.5" cy="939.85" r="5.45"/>
<circle cx="966.5" cy="947.71" r="5.45"/>
<circle cx="964.1" cy="955.57" r="5.45"/>
<circle cx="963.6" cy="979.15" r="5.45"/>
<circle cx="958.3" cy="987.01" r="5.45"/>
<circle cx="959" cy="994.87" r="5.45"/>
</g>
<rect x="781" y="825.5" width="219.15" height="514" fill="none" stroke="#000" stroke-width="1.8"/>
<g stroke="#000" stroke-width="1.7">
<line x1="817.55" y1="1339.5" x2="817.55" y2="1346.9"/>
<line x1="890.65" y1="1339.5" x2="890.65" y2="1346.9"/>
<line x1="963.75" y1="1339.5" x2="963.75" y2="1346.9"/>
</g>
<g opacity="0.996">
<text transform="translate(142.05 640.05) scale(0.97 1.02)" text-anchor="middle">RS1</text>
<text transform="translate(212.55 640.05) scale(0.97 1.02)" text-anchor="middle">RS2</text>
<text transform="translate(281.25 640.05) scale(0.97 1.02)" text-anchor="middle">RS3</text>
<text transform="translate(87.5 614.65) scale(1.0 1.085)" text-anchor="end">0.65</text>
<text transform="translate(87.5 541.22) scale(1.0 1.085)" text-anchor="end">0.70</text>
<text transform="translate(87.5 467.79) scale(1.0 1.085)" text-anchor="end">0.75</text>
<text transform="translate(87.5 394.36) scale(1.0 1.085)" text-anchor="end">0.80</text>
<text transform="translate(87.5 320.94) scale(1.0 1.085)" text-anchor="end">0.85</text>
<text transform="translate(87.5 247.51) scale(1.0 1.085)" text-anchor="end">0.90</text>
<text transform="translate(87.5 174.08) scale(1.0 1.085)" text-anchor="end">0.95</text>
<text transform="translate(87.5 100.65) scale(1.0 1.085)" text-anchor="end">1.00</text>
<text transform="translate(212.75 52.05) scale(1.0 1.02)" text-anchor="middle">All</text>
<text transform="translate(212.75 83.05) scale(1.0 1.02)" text-anchor="middle">pathologists</text>
<text transform="translate(367.95 640.05) scale(0.97 1.02)" text-anchor="middle">RS1</text>
<text transform="translate(438.45 640.05) scale(0.97 1.02)" text-anchor="middle">RS2</text>
<text transform="translate(507.15 640.05) scale(0.97 1.02)" text-anchor="middle">RS3</text>
<text transform="translate(438.65 52.05) scale(1.0 1.02)" text-anchor="middle">Senior</text>
<text transform="translate(438.65 83.05) scale(1.0 1.02)" text-anchor="middle">pathologists</text>
<text transform="translate(593.95 640.05) scale(0.97 1.02)" text-anchor="middle">RS1</text>
<text transform="translate(664.45 640.05) scale(0.97 1.02)" text-anchor="middle">RS2</text>
<text transform="translate(733.15 640.05) scale(0.97 1.02)" text-anchor="middle">RS3</text>
<text transform="translate(664.65 52.05) scale(1.0 1.02)" text-anchor="middle">Intermediate</text>
<text transform="translate(664.65 83.05) scale(1.0 1.02)" text-anchor="middle">pathologists</text>
<text transform="translate(819.95 640.05) scale(0.97 1.02)" text-anchor="middle">RS1</text>
<text transform="translate(890.45 640.05) scale(0.97 1.02)" text-anchor="middle">RS2</text>
<text transform="translate(959.15 640.05) scale(0.97 1.02)" text-anchor="middle">RS3</text>
<text transform="translate(890.65 52.05) scale(1.0 1.02)" text-anchor="middle">Junior</text>
<text transform="translate(890.65 83.05) scale(1.0 1.02)" text-anchor="middle">pathologists</text>
<text transform="translate(142.05 1375.3) scale(0.97 1.02)" text-anchor="middle">RS1</text>
<text transform="translate(212.55 1375.3) scale(0.97 1.02)" text-anchor="middle">RS2</text>
<text transform="translate(281.25 1375.3) scale(0.97 1.02)" text-anchor="middle">RS3</text>
<text transform="translate(87.5 1307.07) scale(1.0 1.085)" text-anchor="end">0.4</text>
<text transform="translate(87.5 1221.4) scale(1.0 1.085)" text-anchor="end">0.5</text>
<text transform="translate(87.5 1135.73) scale(1.0 1.085)" text-anchor="end">0.6</text>
<text transform="translate(87.5 1050.07) scale(1.0 1.085)" text-anchor="end">0.7</text>
<text transform="translate(87.5 964.4) scale(1.0 1.085)" text-anchor="end">0.8</text>
<text transform="translate(87.5 878.73) scale(1.0 1.085)" text-anchor="end">0.9</text>
<text transform="translate(212.75 788) scale(1.0 1.02)" text-anchor="middle">All</text>
<text transform="translate(212.75 818.7) scale(1.0 1.02)" text-anchor="middle">pathologists</text>
<text transform="translate(367.95 1375.3) scale(0.97 1.02)" text-anchor="middle">RS1</text>
<text transform="translate(438.45 1375.3) scale(0.97 1.02)" text-anchor="middle">RS2</text>
<text transform="translate(507.15 1375.3) scale(0.97 1.02)" text-anchor="middle">RS3</text>
<text transform="translate(438.65 788) scale(1.0 1.02)" text-anchor="middle">Senior</text>
<text transform="translate(438.65 818.7) scale(1.0 1.02)" text-anchor="middle">pathologists</text>
<text transform="translate(593.95 1375.3) scale(0.97 1.02)" text-anchor="middle">RS1</text>
<text transform="translate(664.45 1375.3) scale(0.97 1.02)" text-anchor="middle">RS2</text>
<text transform="translate(733.15 1375.3) scale(0.97 1.02)" text-anchor="middle">RS3</text>
<text transform="translate(664.65 788) scale(1.0 1.02)" text-anchor="middle">Intermediate</text>
<text transform="translate(664.65 818.7) scale(1.0 1.02)" text-anchor="middle">pathologists</text>
<text transform="translate(819.95 1375.3) scale(0.97 1.02)" text-anchor="middle">RS1</text>
<text transform="translate(890.45 1375.3) scale(0.97 1.02)" text-anchor="middle">RS2</text>
<text transform="translate(959.15 1375.3) scale(0.97 1.02)" text-anchor="middle">RS3</text>
<text transform="translate(890.65 788) scale(1.0 1.02)" text-anchor="middle">Junior</text>
<text transform="translate(890.65 818.7) scale(1.0 1.02)" text-anchor="middle">pathologists</text>
<text transform="translate(536.7 20.5) scale(1.0 1.02)" text-anchor="middle">Boxplot accuracy for 2 categories</text>
<text transform="translate(537 673.5) scale(1.0 1.02)" text-anchor="middle">Ring studies</text>
<text transform="translate(537.4 705.9) scale(1.04 1.05)" text-anchor="middle">(a)</text>
<text transform="translate(536.7 756) scale(1.0 1.02)" text-anchor="middle">Boxplot accuracy for 4 categories</text>
<text transform="translate(537 1408.6) scale(1.0 1.02)" text-anchor="middle">Ring studies</text>
<text transform="translate(537.4 1440.9) scale(1.04 1.05)" text-anchor="middle">(b)</text>
<text transform="translate(20.5 347.2) rotate(-90) scale(1.0 1.02)" text-anchor="middle">Accuracy</text>
<text transform="translate(35.6 1082.3) rotate(-90) scale(1.0 1.02)" text-anchor="middle">Accuracy</text>
</g>
</svg>
</body></html>
